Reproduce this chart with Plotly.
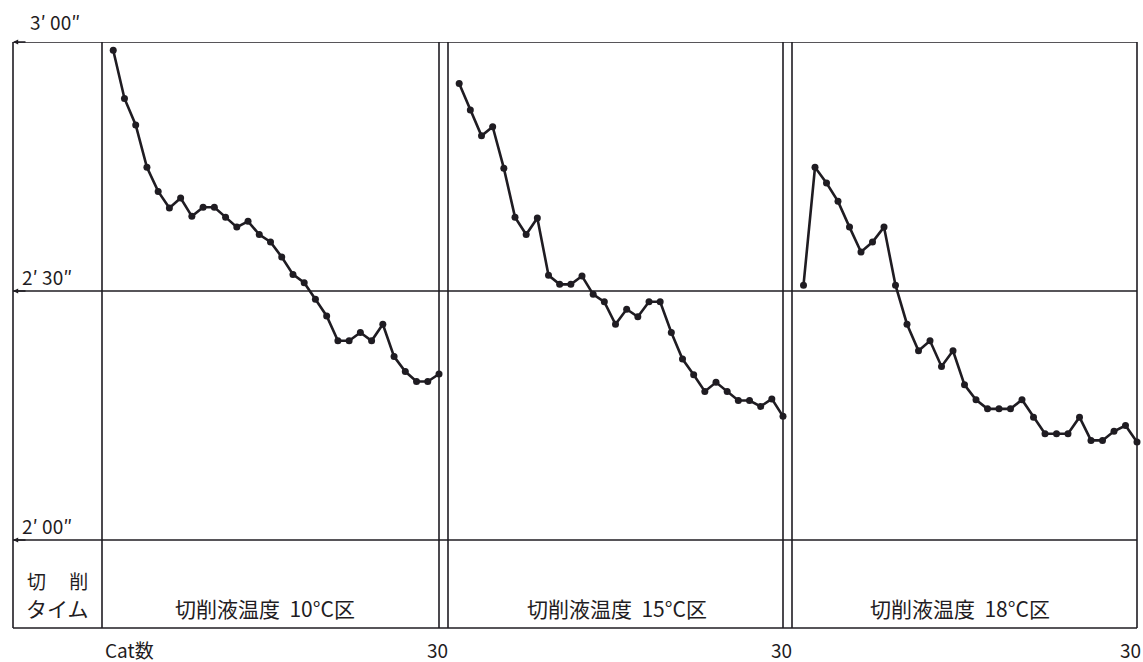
import plotly.graph_objects as go

# Cutting time (seconds) per cut, for three coolant temperatures
cuts = list(range(1, 31))
time_10c = [179.0, 173.2, 170.0, 164.9, 162.0, 160.0, 161.2, 159.0, 160.1, 160.1,
            158.9, 157.7, 158.4, 156.8, 155.9, 154.1, 152.0, 151.0, 149.0, 147.0,
            144.0, 144.0, 145.0, 144.0, 146.0, 142.1, 140.3, 139.1, 139.1, 140.0]
time_15c = [175.0, 171.8, 168.7, 169.8, 164.8, 158.9, 156.8, 158.8, 151.9, 150.8,
            150.8, 151.8, 149.6, 148.7, 146.0, 147.8, 146.9, 148.7, 148.7, 145.0,
            141.8, 139.9, 137.9, 139.0, 137.9, 136.8, 136.8, 136.1, 137.0, 134.9]
time_18c = [150.7, 164.9, 163.0, 160.8, 157.7, 154.7, 155.9, 157.7, 150.7, 146.0,
            142.8, 144.0, 140.9, 142.8, 138.7, 136.9, 135.8, 135.8, 135.8, 136.9,
            134.8, 132.8, 132.8, 132.8, 134.8, 132.0, 132.0, 133.1, 133.8, 131.8]
series = [time_10c, time_15c, time_18c]
panel_labels = ["切削液温度  10°C区", "切削液温度  15°C区", "切削液温度  18°C区"]
y_ticks = [180, 150, 120]
y_tick_labels = ["3′ 00″", "2′ 30″", "2′ 00″"]
x_end = 30
x_label = "Cat数"
row_label = ["切\u3000 削", "タイム"]

W, H = 1143, 662
L, R, T, B = 13, 6, 42, 34
PW = W - L - R
PH = H - T - B


def px(x):
    return (x - L) / PW


def py(y):
    return 1 - (y - T) / PH


domains = [[px(102), px(439)], [px(448), px(783)], [px(792), px(1137)]]
Y_RANGE = [109.4, 180]
INK = "#1f1c22"
FONT = "Noto Sans CJK JP, DejaVu Sans, sans-serif"

fig = go.Figure()
for i, vals in enumerate(series):
    sfx = "" if i == 0 else str(i + 1)
    fig.add_trace(go.Scatter(
        x=cuts, y=vals, xaxis="x" + sfx, yaxis="y",
        mode="lines+markers",
        line=dict(color=INK, width=2.6),
        marker=dict(color=INK, size=7),
        cliponaxis=False, showlegend=False, hoverinfo="x+y",
    ))

layout = dict(
    width=W, height=H,
    margin=dict(l=L, r=R, t=T, b=B, autoexpand=False),
    paper_bgcolor="white", plot_bgcolor="white",
    showlegend=False,
    yaxis=dict(range=Y_RANGE, visible=False, anchor="x", domain=[0, 1], automargin=False),
    font=dict(family=FONT, color=INK),
)
for i, dom in enumerate(domains):
    key = "xaxis" if i == 0 else f"xaxis{i + 1}"
    layout[key] = dict(
        domain=dom, range=[0, x_end], anchor="y", automargin=False,
        visible=False,
    )
fig.update_layout(**layout)

line_style = dict(color=INK, width=1.6)
shapes = []
# horizontal rules at 3'00", 2'30", 2'00" and the bottom border
for v in y_ticks:
    shapes.append(dict(type="line", xref="paper", yref="y", x0=0, x1=1, y0=v, y1=v, line=line_style))
shapes.append(dict(type="line", xref="paper", yref="paper", x0=0, x1=1, y0=0, y1=0, line=line_style))
# outer left border and label column separator
shapes.append(dict(type="line", xref="paper", yref="paper", x0=0, x1=0, y0=0, y1=1, line=line_style))
shapes.append(dict(type="line", xref="x domain", yref="paper", x0=0, x1=0, y0=0, y1=1, line=line_style))
# panel edges (double rules between panels)
for sfx in ["", "2", "3"]:
    shapes.append(dict(type="line", xref=f"x{sfx} domain", yref="paper", x0=1, x1=1, y0=0, y1=1, line=line_style))
for sfx in ["2", "3"]:
    shapes.append(dict(type="line", xref=f"x{sfx} domain", yref="paper", x0=0, x1=0, y0=0, y1=1, line=line_style))
fig.update_layout(shapes=shapes)

annotations = []
# y value labels sitting above each horizontal rule
label_x = [px(28), px(20), px(20)]
label_shift = [5, -1, -1]
for v, txt, lx, sh in zip(y_ticks, y_tick_labels, label_x, label_shift):
    annotations.append(dict(
        xref="paper", yref="y", x=lx, y=v, yshift=sh,
        text=txt, showarrow=False, xanchor="left", yanchor="bottom",
        font=dict(size=19, family=FONT, color=INK),
    ))
    # small arrowhead at the left end of the rule
    annotations.append(dict(
        xref="paper", yref="y", x=0, y=v, ax=14, ay=0, text="",
        showarrow=True, arrowhead=2, arrowsize=0.8, arrowwidth=1.3, arrowcolor=INK,
    ))
# label column in the bottom row
annotations.append(dict(
    xref="paper", yref="paper", x=px(57), y=py(580),
    text=row_label[0], showarrow=False, xanchor="center", yanchor="middle",
    font=dict(size=19, family=FONT, color=INK),
))
annotations.append(dict(
    xref="paper", yref="paper", x=px(57), y=py(608),
    text=row_label[1], showarrow=False, xanchor="center", yanchor="middle",
    font=dict(size=21, family=FONT, color=INK),
))
# coolant temperature label under each panel
label_cx = [265, 617, 960]
for txt, cx in zip(panel_labels, label_cx):
    annotations.append(dict(
        xref="paper", yref="paper", x=px(cx), y=py(608),
        text=txt, showarrow=False, xanchor="center", yanchor="middle",
        font=dict(size=21, family=FONT, color=INK),
    ))
# end-of-range label under each panel
for i in range(3):
    sfx = "" if i == 0 else str(i + 1)
    last = i == 2
    annotations.append(dict(
        xref="x" + sfx, yref="paper", x=x_end, y=0, yshift=-6,
        xanchor="right" if last else "center", xshift=6 if last else -2,
        text=str(x_end), showarrow=False, yanchor="top",
        font=dict(size=19, family=FONT, color=INK),
    ))
# x axis caption
annotations.append(dict(
    xref="paper", yref="paper", x=px(103), y=0, yshift=-6,
    text=x_label, showarrow=False, xanchor="left", yanchor="top",
    font=dict(size=19, family=FONT, color=INK),
))
fig.update_layout(annotations=annotations)

fig.write_html("out.html")
